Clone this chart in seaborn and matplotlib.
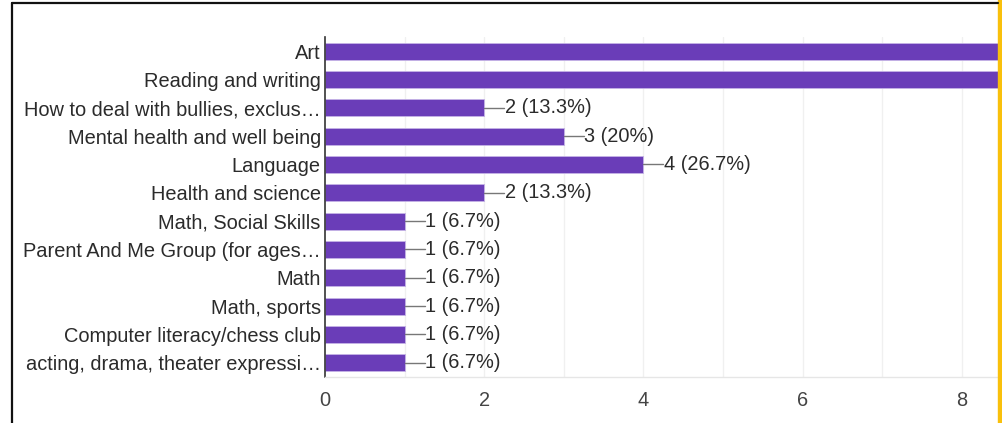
import matplotlib
matplotlib.use("Agg")
import matplotlib.pyplot as plt
import seaborn as sns
import pandas as pd
from matplotlib.lines import Line2D
from matplotlib.patches import Rectangle

categories = [
    "Art",
    "Reading and writing",
    "How to deal with bullies, exclus\u2026",
    "Mental health and well being",
    "Language",
    "Health and science",
    "Math, Social Skills",
    "Parent And Me Group (for ages\u2026",
    "Math",
    "Math, sports",
    "Computer literacy/chess club",
    "acting, drama, theater expressi\u2026",
]
counts = [10, 9, 2, 3, 4, 2, 1, 1, 1, 1, 1, 1]
total_responses = 15
x_ticks = [0, 2, 4, 6, 8]

sns.set_theme(style="white")
plt.rcParams["font.family"] = ["Liberation Sans", "DejaVu Sans"]

df = pd.DataFrame({"category": categories, "count": counts})

fig = plt.figure(figsize=(10.02, 4.23), dpi=100)
W, H = 1002, 423
left, right, top, bottom = 325, 998, 37, 377
ax = fig.add_axes([left / W, 1 - bottom / H, (right - left) / W, (bottom - top) / H])

bar_color = "#6a3db8"
sns.barplot(data=df, y="category", x="count", orient="h", color=bar_color,
            saturation=1, width=0.6, ax=ax, edgecolor="#c5b3e6", linewidth=0.6)

xmax = (right - left) / 79.6
ax.set_xlim(0, xmax)
ax.set_ylim(len(categories) - 0.5, -0.5)

for v in range(1, 9):
    ax.axvline(v, color="#f0f0f0", lw=1, zorder=0)
ax.set_axisbelow(True)

for s in ["top", "right"]:
    ax.spines[s].set_visible(False)
ax.spines["left"].set_color("#333333")
ax.spines["left"].set_linewidth(1.2)
ax.spines["bottom"].set_color("#e6e6e6")
ax.spines["bottom"].set_linewidth(1)

fs = 14.4
ax.set_xticks(x_ticks)
ax.set_xticklabels([str(t) for t in x_ticks], fontsize=fs, color="#444444")
ax.tick_params(axis="x", length=0, pad=10)
ax.tick_params(axis="y", length=0, pad=3, labelsize=fs, labelcolor="#2b2b2b")
ax.set_xlabel("")
ax.set_ylabel("")

def fmt_pct(c):
    p = round(c / total_responses * 100, 1)
    s = f"{p:.1f}"
    if s.endswith(".0"):
        s = s[:-2]
    return s + "%"

for i, c in enumerate(counts):
    if c + 0.25 < xmax:
        ax.plot([c, c + 0.25], [i, i], color="#777777", lw=1, zorder=3)
        ax.text(c + 0.26, i, f"{c} ({fmt_pct(c)})", va="center", ha="left",
                fontsize=fs, color="#2b2b2b", clip_on=True)

fig.add_artist(Line2D([12 / W, 998 / W], [1 - 3 / H, 1 - 3 / H], color="#111111", lw=1.6,
                      transform=fig.transFigure))
fig.add_artist(Line2D([12 / W, 12 / W], [0, 1 - 3 / H], color="#111111", lw=1.6,
                      transform=fig.transFigure))
fig.add_artist(Rectangle((998 / W, 0), 4 / W, 1, color="#f9c00c", transform=fig.transFigure))

fig.savefig("out.png", dpi=100)
